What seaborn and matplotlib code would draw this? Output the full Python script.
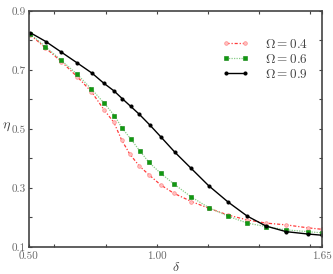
import matplotlib
matplotlib.use("Agg")
import matplotlib.pyplot as plt
import seaborn as sns
import pandas as pd

# ---- data ----
delta_04 = [0.505, 0.564, 0.627, 0.689, 0.745, 0.795, 0.833, 0.863, 0.895, 0.932,
            0.971, 1.017, 1.068, 1.137, 1.206, 1.281, 1.355, 1.429, 1.508, 1.593, 1.649]
eta_04 = [0.819, 0.775, 0.728, 0.677, 0.626, 0.564, 0.522, 0.463, 0.415, 0.375,
          0.344, 0.310, 0.282, 0.254, 0.231, 0.208, 0.192, 0.181, 0.175, 0.165, 0.160]

delta_06 = [0.505, 0.564, 0.627, 0.689, 0.745, 0.795, 0.835, 0.865, 0.899, 0.935,
            0.970, 1.016, 1.069, 1.137, 1.206, 1.281, 1.356, 1.430, 1.509, 1.593, 1.649]
eta_06 = [0.822, 0.779, 0.732, 0.685, 0.635, 0.587, 0.545, 0.503, 0.466, 0.425,
          0.387, 0.350, 0.313, 0.269, 0.233, 0.204, 0.181, 0.169, 0.158, 0.152, 0.148]

delta_09 = [0.505, 0.566, 0.627, 0.690, 0.747, 0.793, 0.833, 0.865, 0.898, 0.932,
            0.974, 1.017, 1.072, 1.135, 1.204, 1.281, 1.355, 1.429, 1.508, 1.593, 1.648]
eta_09 = [0.826, 0.796, 0.760, 0.723, 0.689, 0.655, 0.629, 0.603, 0.577, 0.550,
          0.513, 0.473, 0.421, 0.367, 0.308, 0.252, 0.205, 0.171, 0.152, 0.144, 0.140]

labels = [r'$\Omega = 0.4$', r'$\Omega = 0.6$', r'$\Omega = 0.9$']

x_ticks = [0.5, 0.6, 0.8, 1.0, 1.2, 1.4, 1.6, 1.65]
x_ticklabels = ['0.50', '', '', '1.00', '', '', '', '1.65']
y_ticks = [0.1, 0.2, 0.3, 0.4, 0.5, 0.6, 0.7, 0.8, 0.9]
y_ticklabels = ['0.1', '', '0.3', '', '0.5', '', '0.7', '', '0.9']

sns.set_style('ticks')
plt.rcParams['font.family'] = 'serif'
plt.rcParams['font.serif'] = ['cmr10', 'DejaVu Serif']
plt.rcParams['mathtext.fontset'] = 'cm'
plt.rcParams['axes.formatter.use_mathtext'] = True

fig = plt.figure(figsize=(3.33, 2.74), dpi=100)
ax = fig.add_axes([0.087, 0.0985, 0.881, 0.862])

df04 = pd.DataFrame({'d': delta_04, 'e': eta_04})
df06 = pd.DataFrame({'d': delta_06, 'e': eta_06})
df09 = pd.DataFrame({'d': delta_09, 'e': eta_09})

sns.lineplot(data=df04, x='d', y='e', ax=ax, sort=False, color='#ff3a3a',
             linestyle=(0, (2.5, 1.5, 1, 1.5)), linewidth=0.9, marker='o', markersize=2.6,
             markerfacecolor='#ffc0c0', markeredgecolor='#ff8a8a', markeredgewidth=0.5,
             label=labels[0])
sns.lineplot(data=df06, x='d', y='e', ax=ax, sort=False, color='#88cc88',
             linestyle=(0, (1, 1)), linewidth=0.9, marker='s', markersize=2.7,
             markerfacecolor='#119911', markeredgecolor='#0a800a', markeredgewidth=0.4,
             label=labels[1])
sns.lineplot(data=df09, x='d', y='e', ax=ax, sort=False, color='black',
             linestyle='-', linewidth=1.0, marker='o', markersize=2.2,
             markerfacecolor='black', markeredgecolor='black', label=labels[2])

ax.set_xlim(0.5, 1.65)
ax.set_ylim(0.1, 0.9)
ax.set_xticks(x_ticks)
ax.set_xticklabels(x_ticklabels)
ax.set_yticks(y_ticks)
ax.set_yticklabels(y_ticklabels)
ax.tick_params(direction='in', length=2.5, width=0.8, top=True, right=True,
               labelsize=8, labelcolor='#666666', color='#444444', pad=2)
ax.tick_params(axis='x', pad=3.5)

for s in ax.spines.values():
    s.set_color('#444444')
    s.set_linewidth(1.2)

ax.set_xlabel(r'$\delta$', fontsize=10, color='#444444', labelpad=0)
ax.set_ylabel(r'$\eta$', fontsize=10, color='#444444', rotation=0, va='center')
ax.yaxis.set_label_coords(-0.075, 0.51)

leg = ax.legend(loc='upper right', bbox_to_anchor=(0.99, 0.935), frameon=False,
                fontsize=9.5, handlelength=2.0, handletextpad=1.2, labelspacing=0.15,
                numpoints=2, labelcolor='#444444')

fig.savefig('out.png', dpi=100)
